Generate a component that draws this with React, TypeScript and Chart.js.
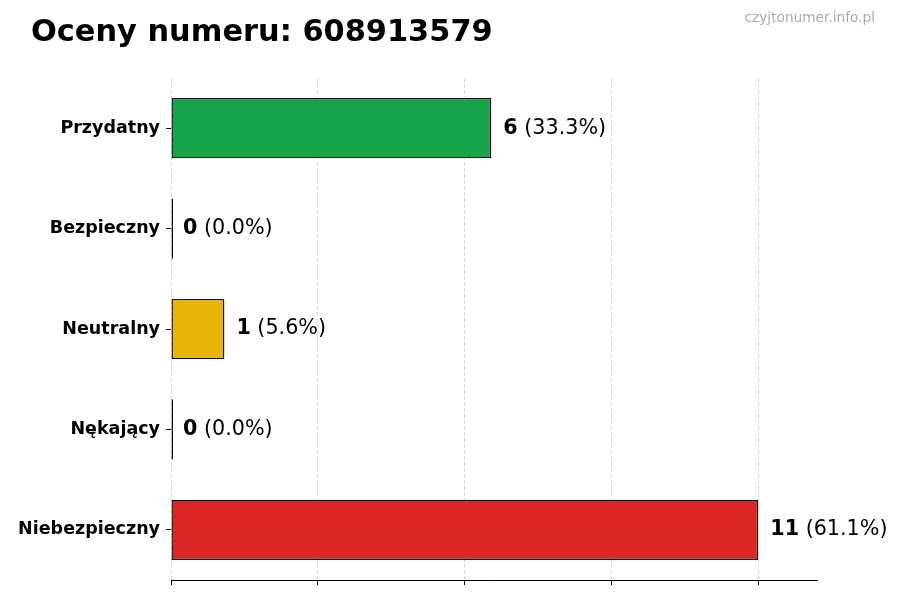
import { useEffect, useRef } from "react";
import { Chart, registerables } from "chart.js";

Chart.register(...registerables);

const categories = ["Przydatny", "Bezpieczny", "Neutralny", "Nękający", "Niebezpieczny"];
const counts = [6, 0, 1, 0, 11];
const barColors = ["#16a34a", "#2563eb", "#eab308", "#f97316", "#dc2626"];
const xTicks = [0, 2.75, 5.5, 8.25, 11];
const xMax = 12.1;

const titleText = "Oceny numeru: 608913579";
const watermark = "czyjtonumer.info.pl";
const FONT = "'DejaVu Sans', sans-serif";

const total = counts.reduce((a, b) => a + b, 0);

const valueLabels = {
  id: "valueLabels",
  afterDraw(chart: Chart) {
    const ctx = chart.ctx;
    const meta = chart.getDatasetMeta(0);
    ctx.save();
    ctx.textBaseline = "middle";
    ctx.fillStyle = "#000";
    meta.data.forEach((bar: any, i: number) => {
      const v = counts[i];
      const pct = " (" + ((v / total) * 100).toFixed(1) + "%)";
      const x = chart.scales.x.getPixelForValue(v) + 12;
      const y = bar.y;
      ctx.font = "bold 20.7px " + FONT;
      ctx.fillText(String(v), x, y);
      const w = ctx.measureText(String(v)).width;
      ctx.font = "20.7px " + FONT;
      ctx.fillText(pct, x + w, y);
    });
    ctx.restore();
  },
};

const headerText = {
  id: "headerText",
  afterDraw(chart: Chart) {
    const ctx = chart.ctx;
    ctx.save();
    ctx.fillStyle = "#000";
    ctx.textBaseline = "alphabetic";
    ctx.textAlign = "left";
    ctx.font = "bold 30.4px " + FONT;
    ctx.fillText(titleText, 31, 41);
    ctx.fillStyle = "#aaaaaa";
    ctx.textAlign = "right";
    ctx.textBaseline = "middle";
    ctx.font = "13.7px " + FONT;
    ctx.fillText(watermark, 875, 18);
    ctx.restore();
  },
};

export default function App() {
  const chartRef = useRef<HTMLCanvasElement>(null);
  const chartInstanceRef = useRef<Chart | null>(null);

  useEffect(() => {
    if (!chartRef.current) return;
    const ctx = chartRef.current.getContext("2d");
    if (!ctx) return;
    if (chartInstanceRef.current) chartInstanceRef.current.destroy();

    chartInstanceRef.current = new Chart(ctx, {
      type: "bar",
      data: {
        labels: categories,
        datasets: [
          {
            data: counts,
            backgroundColor: barColors,
            borderColor: "#111",
            borderWidth: 1.4,
            borderSkipped: false,
            minBarLength: 2,
            barPercentage: 0.6,
            categoryPercentage: 1,
          },
        ],
      },
      options: {
        indexAxis: "y",
        responsive: false,
        animation: false,
        layout: { padding: { top: 78, right: 83, bottom: 0, left: 0 } },
        plugins: {
          legend: { display: false },
          tooltip: { enabled: false },
        },
        scales: {
          x: {
            min: 0,
            max: xMax,
            z: 1,
            afterBuildTicks: (scale: any) => {
              scale.ticks = xTicks.map((v) => ({ value: v }));
            },
            afterFit: (scale: any) => {
              scale.height = 20;
            },
            ticks: { display: false },
            grid: {
              color: "rgba(190,190,190,0.55)",
              lineWidth: 1,
              tickColor: "#000",
              tickLength: 5,
              tickBorderDash: [],
            },
            border: { display: true, color: "#000", width: 1, dash: [4, 2] },
          },
          y: {
            afterFit: (scale: any) => {
              scale.width = 171;
            },
            ticks: {
              color: "#000",
              padding: 6,
              font: { family: FONT, size: 17.5, weight: "bold" },
            },
            grid: {
              offset: false,
              drawOnChartArea: false,
              drawTicks: true,
              tickLength: 5,
              tickColor: "#000",
            },
            border: { display: false },
          },
        },
      },
      plugins: [valueLabels, headerText],
    } as any);

    return () => {
      if (chartInstanceRef.current) {
        chartInstanceRef.current.destroy();
        chartInstanceRef.current = null;
      }
    };
  }, []);

  return (
    <div style={{ position: "fixed", left: 0, top: 0, width: 900, height: 600, background: "#fff" }}>
      <canvas ref={chartRef} width={900} height={600} />
    </div>
  );
}
